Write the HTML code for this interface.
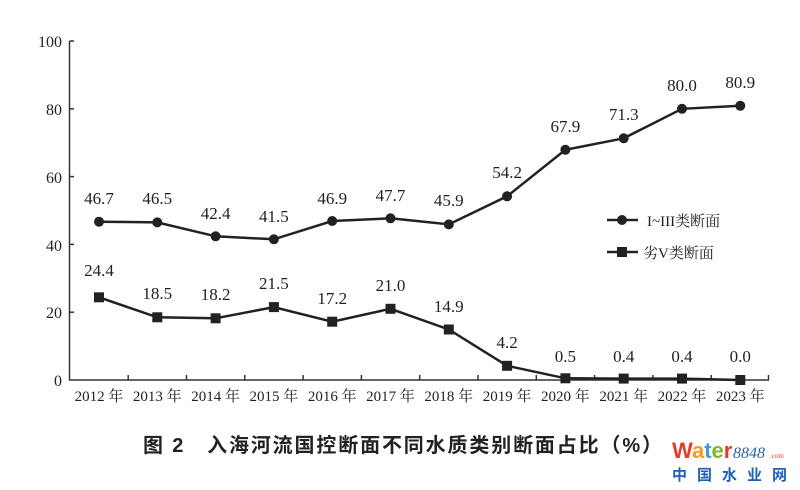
<!DOCTYPE html>
<html><head><meta charset="utf-8"><style>
html,body{margin:0;padding:0;background:#fff;}
svg{display:block}
text{font-family:"Liberation Serif","Noto Serif CJK SC",serif;fill:#222}
</style></head><body>
<svg width="800" height="490" viewBox="0 0 800 490" xmlns="http://www.w3.org/2000/svg">
<g stroke="#333" stroke-width="1.5" fill="none">
<line x1="69.5" y1="41" x2="69.5" y2="380"/>
<line x1="69" y1="380" x2="769" y2="380"/>
<line x1="69.5" y1="41" x2="74" y2="41"/>
<line x1="69.5" y1="108.8" x2="74" y2="108.8"/>
<line x1="69.5" y1="176.6" x2="74" y2="176.6"/>
<line x1="69.5" y1="244.4" x2="74" y2="244.4"/>
<line x1="69.5" y1="312.2" x2="74" y2="312.2"/>
<line x1="128.2" y1="380" x2="128.2" y2="375"/><line x1="186.5" y1="380" x2="186.5" y2="375"/><line x1="244.8" y1="380" x2="244.8" y2="375"/><line x1="303.1" y1="380" x2="303.1" y2="375"/><line x1="361.4" y1="380" x2="361.4" y2="375"/><line x1="419.7" y1="380" x2="419.7" y2="375"/><line x1="478" y1="380" x2="478" y2="375"/><line x1="536.3" y1="380" x2="536.3" y2="375"/><line x1="594.6" y1="380" x2="594.6" y2="375"/><line x1="652.9" y1="380" x2="652.9" y2="375"/><line x1="711.2" y1="380" x2="711.2" y2="375"/><line x1="768.5" y1="380" x2="768.5" y2="375"/>
</g>
<g font-size="16" text-anchor="end">
<text x="62" y="47">100</text><text x="62" y="115">80</text><text x="62" y="183">60</text><text x="62" y="251">40</text><text x="62" y="318">20</text><text x="62" y="386">0</text>
</g>
<g font-size="15" text-anchor="middle">
<text x="99" y="401">2012 年</text><text x="157.3" y="401">2013 年</text><text x="215.6" y="401">2014 年</text><text x="273.9" y="401">2015 年</text><text x="332.2" y="401">2016 年</text><text x="390.5" y="401">2017 年</text><text x="448.8" y="401">2018 年</text><text x="507.1" y="401">2019 年</text><text x="565.4" y="401">2020 年</text><text x="623.7" y="401">2021 年</text><text x="682" y="401">2022 年</text><text x="740.3" y="401">2023 年</text>
</g>
<polyline fill="none" stroke="#222" stroke-width="2.5" points="99,221.7 157.3,222.4 215.6,236.3 273.9,239.3 332.2,221 390.5,218.3 448.8,224.4 507.1,196.3 565.4,149.8 623.7,138.3 682,108.8 740.3,105.8"/>
<g fill="#222">
<circle cx="99" cy="221.7" r="5"/><circle cx="157.3" cy="222.4" r="5"/><circle cx="215.6" cy="236.3" r="5"/><circle cx="273.9" cy="239.3" r="5"/><circle cx="332.2" cy="221" r="5"/><circle cx="390.5" cy="218.3" r="5"/><circle cx="448.8" cy="224.4" r="5"/><circle cx="507.1" cy="196.3" r="5"/><circle cx="565.4" cy="149.8" r="5"/><circle cx="623.7" cy="138.3" r="5"/><circle cx="682" cy="108.8" r="5"/><circle cx="740.3" cy="105.8" r="5"/>
</g>
<polyline fill="none" stroke="#222" stroke-width="2.5" points="99,297.3 157.3,317.3 215.6,318.3 273.9,307.1 332.2,321.7 390.5,308.8 448.8,329.5 507.1,365.8 565.4,378.3 623.7,378.6 682,378.6 740.3,380"/>
<g fill="#222">
<rect x="94" y="292.3" width="10" height="10"/><rect x="152.3" y="312.3" width="10" height="10"/><rect x="210.6" y="313.3" width="10" height="10"/><rect x="268.9" y="302.1" width="10" height="10"/><rect x="327.2" y="316.7" width="10" height="10"/><rect x="385.5" y="303.8" width="10" height="10"/><rect x="443.8" y="324.5" width="10" height="10"/><rect x="502.1" y="360.8" width="10" height="10"/><rect x="560.4" y="373.3" width="10" height="10"/><rect x="618.7" y="373.6" width="10" height="10"/><rect x="677" y="373.6" width="10" height="10"/><rect x="735.3" y="375" width="10" height="10"/>
</g>
<g font-size="17" text-anchor="middle">
<text x="99" y="204">46.7</text><text x="157.3" y="204">46.5</text><text x="215.6" y="219">42.4</text><text x="273.9" y="222">41.5</text><text x="332.2" y="204">46.9</text><text x="390.5" y="201">47.7</text><text x="448.8" y="206">45.9</text><text x="507.1" y="178">54.2</text><text x="565.4" y="132">67.9</text><text x="623.7" y="120">71.3</text><text x="682" y="91">80.0</text><text x="740.3" y="88">80.9</text>
<text x="99" y="276">24.4</text><text x="157.3" y="299">18.5</text><text x="215.6" y="300">18.2</text><text x="273.9" y="289">21.5</text><text x="332.2" y="304">17.2</text><text x="390.5" y="291">21.0</text><text x="448.8" y="312">14.9</text><text x="507.1" y="348">4.2</text><text x="565.4" y="362">0.5</text><text x="623.7" y="362">0.4</text><text x="682" y="362">0.4</text><text x="740.3" y="362">0.0</text>
</g>
<line x1="607" y1="220" x2="638" y2="220" stroke="#222" stroke-width="2.5"/><circle cx="622" cy="220" r="5" fill="#222"/>
<line x1="607" y1="252" x2="638" y2="252" stroke="#222" stroke-width="2.5"/><rect x="617" y="247" width="10" height="10" fill="#222"/>
<text x="647" y="226" font-size="15">I~III类断面</text>
<text x="643" y="258" font-size="15">劣V类断面</text>
<text x="143" y="452" font-size="20" font-weight="bold" textLength="519" lengthAdjust="spacing" style='font-family:"Liberation Sans","Noto Sans CJK SC",sans-serif'>图 2　入海河流国控断面不同水质类别断面占比（%）</text>
<text x="672" y="458" font-size="22" font-weight="bold" style='font-family:"Liberation Sans",sans-serif'><tspan fill="#e53b2c">W</tspan><tspan fill="#f39b1a">a</tspan><tspan fill="#3d9be0">t</tspan><tspan fill="#7ab929">e</tspan><tspan fill="#e53b2c">r</tspan></text>
<text x="733" y="458" font-size="16" font-style="italic" style="fill:#2a5db0">8848</text>
<text x="770" y="458" font-size="7" style="fill:#e53b2c">.com</text>
<text x="672" y="480" font-size="15" font-weight="bold" letter-spacing="10" style='fill:#1f5fb8;font-family:"Liberation Sans","Noto Sans CJK SC",sans-serif'>中国水业网</text>
</svg>
</body></html>
